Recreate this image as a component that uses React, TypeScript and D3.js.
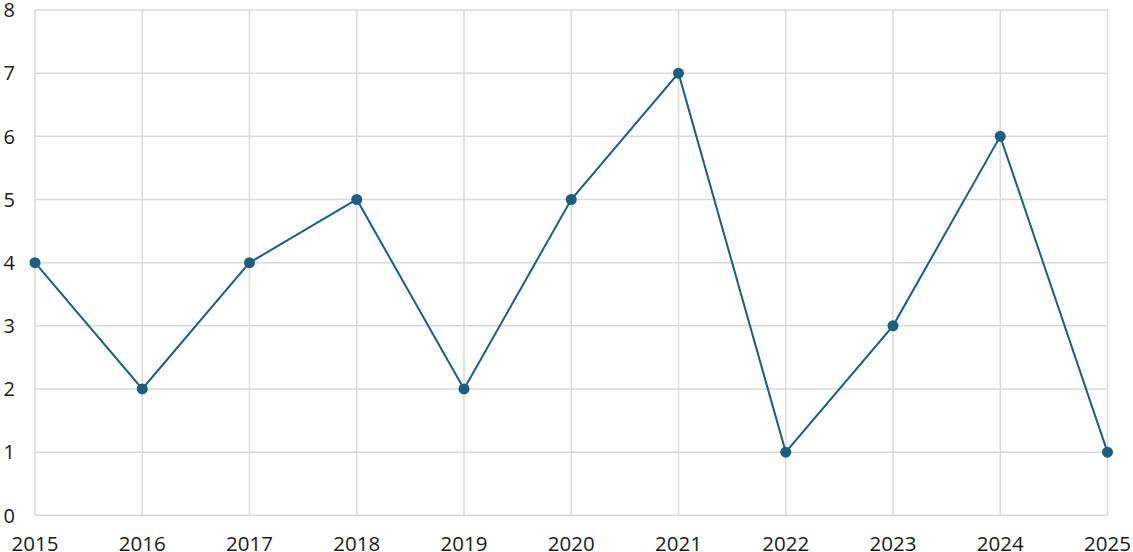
import React from "react";
import * as d3 from "d3";

const years = [2015, 2016, 2017, 2018, 2019, 2020, 2021, 2022, 2023, 2024, 2025];
const values = [4, 2, 4, 5, 2, 5, 7, 1, 3, 6, 1];
const yTicks = [0, 1, 2, 3, 4, 5, 6, 7, 8];

export default function App() {
  const W = 1133, H = 552;
  const x = d3.scaleLinear().domain([2015, 2025]).range([35, 1107.5]);
  const y = d3.scaleLinear().domain([0, 8]).range([515.3, 10]);
  const line = d3.line<number>().x((_, i) => x(years[i])).y((d) => y(d));
  const font = "'Open Sans', sans-serif";
  return (
    <svg width={W} height={H} style={{ position: "absolute", left: 0, top: 0, background: "#fff" }}>
      {yTicks.map((t) => (
        <line key={"h" + t} x1={x(2015)} x2={x(2025)} y1={y(t)} y2={y(t)} stroke="#d9d9d9" strokeWidth={1.5} />
      ))}
      {years.map((yr) => (
        <line key={"v" + yr} x1={x(yr)} x2={x(yr)} y1={y(0)} y2={y(8)} stroke="#d9d9d9" strokeWidth={1.5} />
      ))}
      <path d={line(values) || ""} fill="none" stroke="#1a5e80" strokeWidth={2} />
      {values.map((v, i) => (
        <circle key={"c" + i} cx={x(years[i])} cy={y(v)} r={5.5} fill="#1a5e80" />
      ))}
      {yTicks.map((t) => (
        <text key={"yl" + t} x={15} y={y(t)} dy="0.36em" textAnchor="end" fontFamily={font} fontSize={20} fill="#1a1a1a">
          {t}
        </text>
      ))}
      {years.map((yr) => (
        <text key={"xl" + yr} x={x(yr)} y={551} textAnchor="middle" fontFamily={font} fontSize={20.5} fill="#1a1a1a">
          {yr}
        </text>
      ))}
    </svg>
  );
}
